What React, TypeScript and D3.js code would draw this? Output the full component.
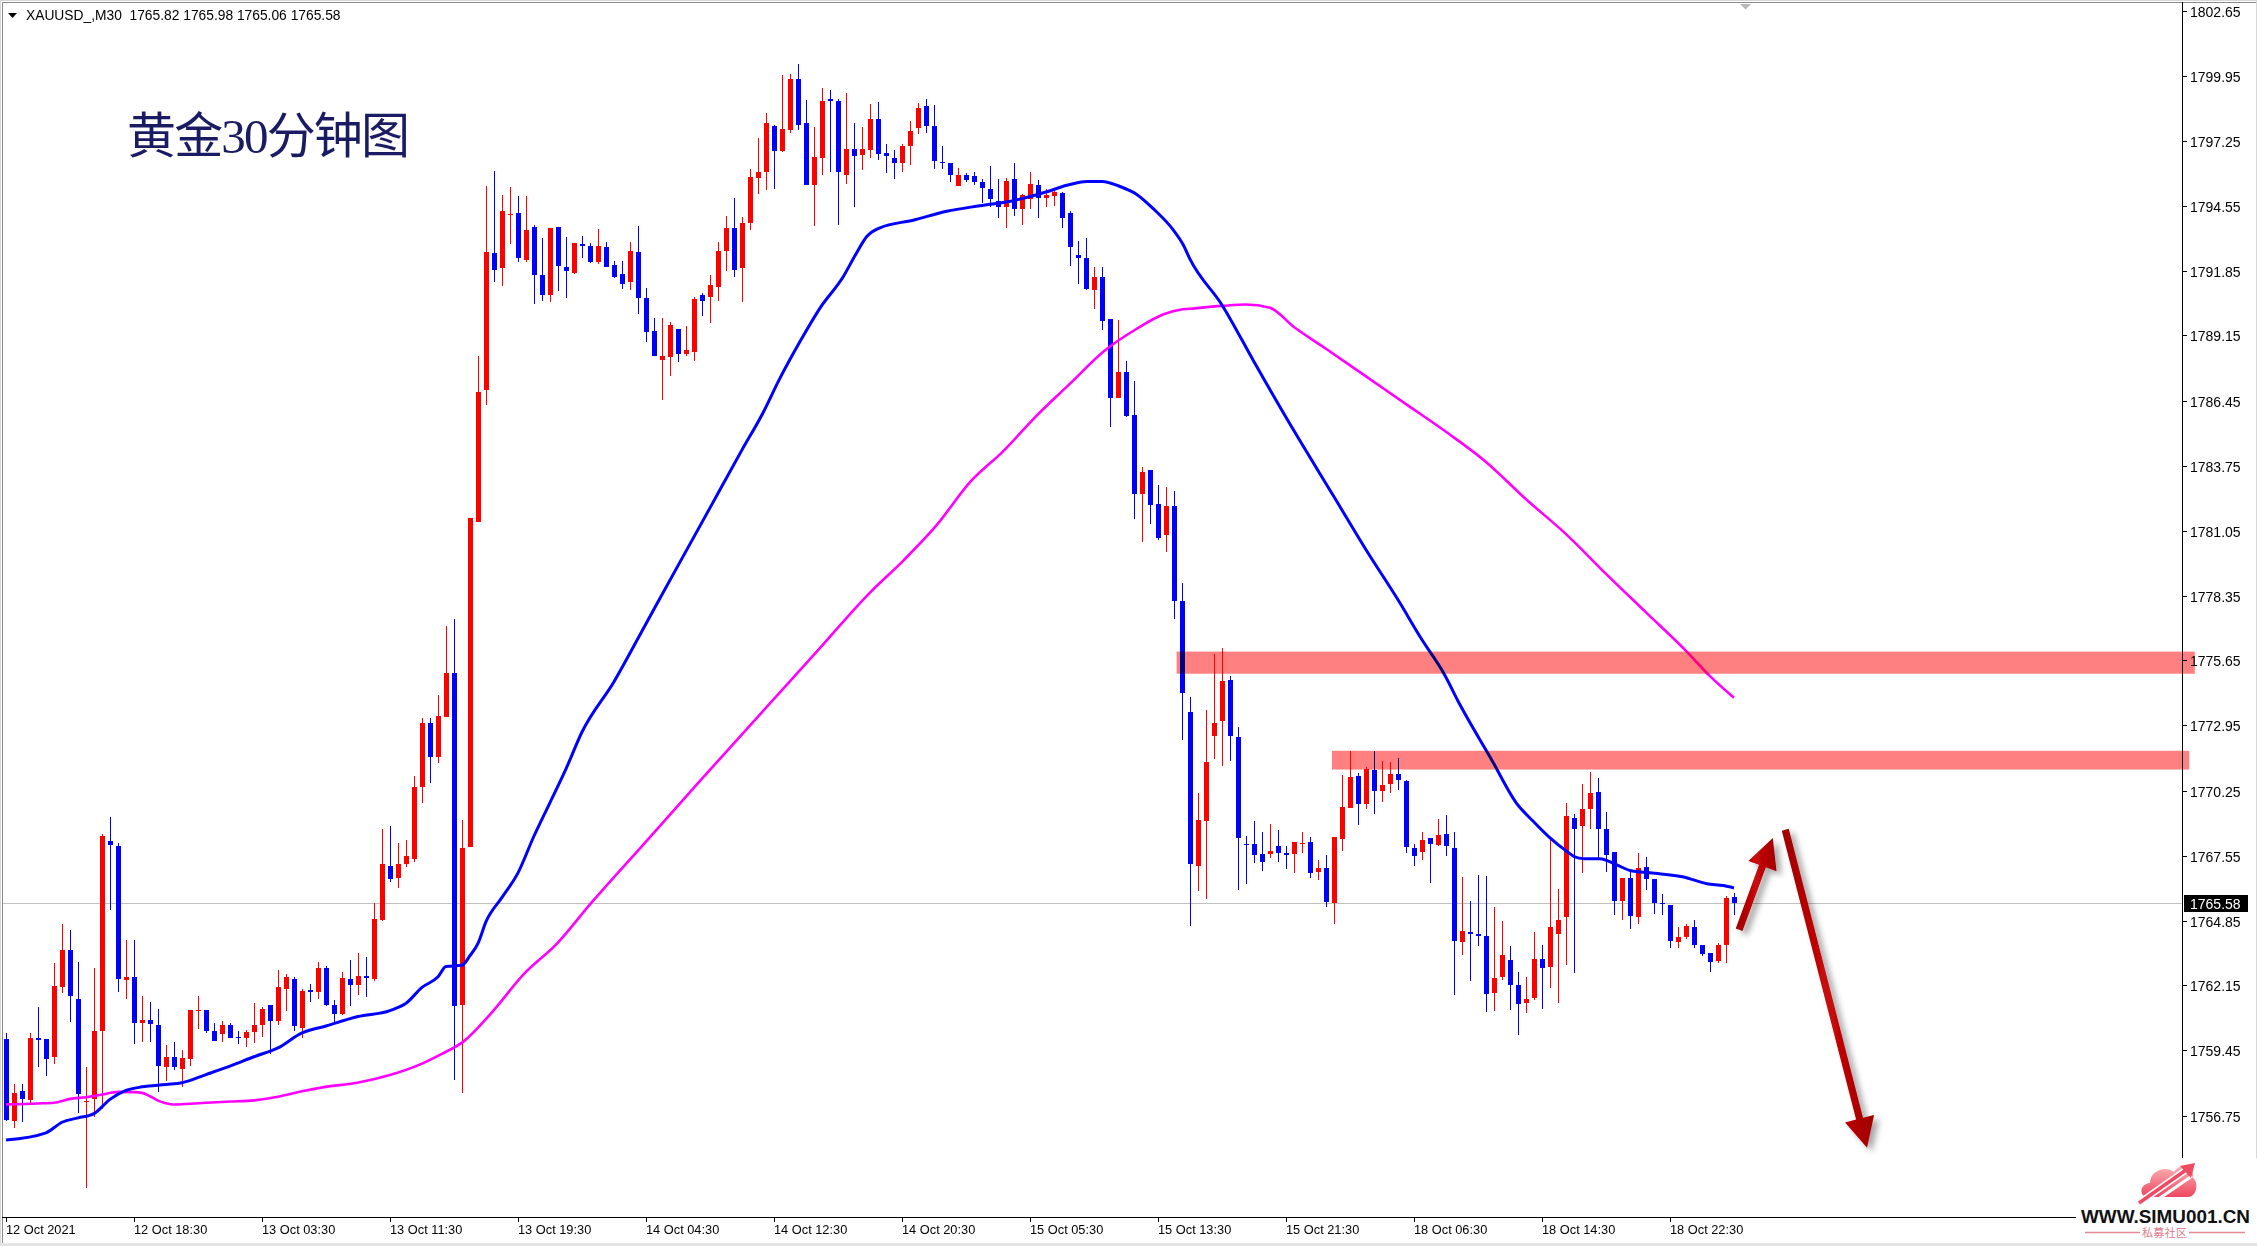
import React from "react";
import * as d3 from "d3";

const W = 2257;
const H = 1246;

// ---- OHLC data (XAUUSD M30), bar 0 .. 216 ----
const opens = [
1759.91,1756.52,1757.75,1757.39,1759.95,1759.91,1759.17,1762.08,1763.64,1761.61,
1757.30,1757.44,1760.25,1768.17,1767.96,1762.37,1762.52,1760.58,1760.70,1760.49,
1758.76,1759.20,1758.67,1759.09,1761.08,1761.12,1760.28,1760.13,1760.49,1760.03,
1759.96,1760.21,1760.50,1761.32,1760.67,1762.00,1762.44,1760.40,1761.95,1761.87,
1762.89,1761.36,1760.98,1762.43,1762.18,1762.53,1762.43,1764.87,1767.13,1766.62,
1767.21,1767.39,1770.39,1773.06,1771.66,1773.31,1775.14,1761.36,1767.92,1781.42,
1786.89,1792.58,1791.97,1794.15,1794.23,1792.30,1793.65,1791.66,1790.85,1793.67,
1792.00,1791.74,1792.96,1792.87,1792.22,1792.83,1792.08,1791.71,1791.39,1792.62,
1790.71,1789.34,1788.13,1788.24,1789.43,1788.40,1788.48,1790.84,1790.73,1791.18,
1792.64,1793.62,1791.97,1793.84,1795.71,1795.94,1797.85,1796.83,1797.70,1799.81,
1797.98,1795.42,1796.54,1798.97,1798.89,1795.83,1796.90,1796.65,1796.87,1798.14,
1796.73,1796.52,1796.33,1797.04,1797.75,1798.69,1797.85,1796.36,1796.31,1795.34,
1795.83,1795.76,1795.52,1795.23,1794.73,1794.47,1795.65,1794.42,1794.83,1795.41,
1794.86,1794.96,1795.07,1794.25,1792.48,1792.37,1791.06,1791.58,1789.84,1786.54,
1787.64,1785.86,1782.58,1783.57,1782.16,1780.86,1782.08,1778.11,1773.52,1767.10,
1768.97,1772.50,1773.12,1774.85,1772.48,1768.04,1768.04,1767.63,1767.60,1767.96,
1767.67,1767.60,1768.02,1768.13,1766.85,1767.05,1765.58,1768.22,1769.51,1770.86,
1769.68,1771.12,1770.22,1770.51,1770.95,1770.66,1767.88,1767.68,1768.29,1767.97,
1768.46,1767.88,1763.95,1764.38,1764.31,1764.22,1761.83,1762.49,1763.19,1762.19,
1761.41,1761.62,1763.27,1762.91,1764.29,1764.98,1769.12,1768.76,1769.50,1770.20,
1768.67,1767.71,1765.65,1766.60,1764.98,1767.09,1766.59,1765.57,1765.51,1763.95,
1764.15,1764.60,1763.85,1763.48,1763.16,1763.82,1765.82
];
const highs = [
1760.18,1758.04,1758.04,1760.16,1761.26,1759.93,1763.10,1764.72,1764.47,1763.13,
1758.76,1762.88,1768.46,1769.15,1768.07,1764.02,1764.06,1761.73,1761.48,1761.19,
1759.66,1759.82,1759.45,1761.15,1761.73,1761.15,1760.61,1760.67,1760.61,1760.28,
1760.32,1761.44,1761.25,1761.36,1762.81,1762.62,1762.52,1762.00,1762.23,1763.14,
1762.94,1761.54,1762.69,1763.19,1763.52,1763.32,1765.56,1768.63,1768.79,1768.05,
1768.20,1770.87,1773.26,1773.26,1774.20,1777.07,1777.38,1769.04,1781.57,1788.31,
1795.38,1795.99,1794.99,1795.32,1794.94,1794.94,1793.75,1793.19,1793.62,1793.67,
1793.24,1792.99,1793.29,1793.01,1793.58,1793.04,1792.25,1792.25,1793.04,1793.70,
1791.13,1789.88,1789.88,1789.72,1789.43,1789.55,1790.75,1790.92,1791.67,1793.04,
1794.12,1794.87,1794.08,1796.07,1797.36,1798.39,1797.90,1799.97,1800.01,1800.43,
1798.93,1797.81,1799.43,1799.35,1798.97,1799.22,1797.98,1797.81,1798.77,1798.85,
1797.09,1796.85,1797.12,1798.06,1798.82,1798.99,1798.72,1797.02,1796.31,1796.12,
1795.88,1795.93,1795.64,1796.20,1795.65,1795.70,1796.31,1795.02,1795.94,1795.60,
1795.23,1795.25,1795.12,1794.31,1793.08,1793.21,1792.00,1791.98,1789.84,1789.80,
1788.09,1787.27,1783.67,1783.57,1782.96,1782.87,1782.68,1778.88,1774.15,1770.16,
1773.61,1775.93,1776.18,1775.02,1772.89,1768.37,1769.00,1768.54,1768.87,1768.62,
1767.96,1768.13,1768.54,1768.33,1767.38,1767.59,1768.33,1770.91,1771.90,1770.99,
1771.24,1771.90,1771.49,1771.45,1771.61,1770.70,1768.04,1768.51,1768.29,1769.08,
1769.25,1768.54,1766.67,1765.68,1766.76,1766.71,1765.43,1764.85,1763.81,1762.69,
1762.52,1764.39,1763.85,1768.21,1766.17,1769.75,1769.29,1770.53,1771.03,1770.78,
1769.37,1767.71,1766.60,1766.85,1767.67,1767.50,1766.59,1765.97,1765.51,1764.60,
1764.72,1764.89,1763.85,1763.48,1763.93,1765.88,1765.98
];
const lows = [
1756.52,1756.24,1756.47,1757.28,1758.77,1758.38,1758.87,1761.84,1760.63,1756.86,
1753.75,1756.68,1757.00,1765.28,1761.87,1761.57,1759.70,1759.82,1759.80,1757.72,
1758.20,1758.63,1757.94,1758.80,1760.35,1760.18,1759.84,1759.80,1759.96,1759.71,
1759.59,1759.78,1760.00,1759.30,1760.53,1761.11,1760.24,1759.97,1761.47,1761.57,
1761.29,1760.60,1760.91,1761.31,1761.77,1761.67,1762.33,1764.82,1766.45,1766.19,
1767.08,1767.26,1769.75,1770.57,1771.40,1773.31,1758.24,1757.70,1767.92,1781.42,
1786.28,1791.36,1791.21,1792.96,1792.20,1792.20,1790.47,1790.60,1790.55,1791.00,
1790.72,1791.69,1792.36,1792.18,1792.12,1791.99,1791.53,1791.10,1791.02,1790.06,
1788.86,1788.28,1786.49,1787.45,1788.07,1788.28,1788.11,1789.98,1789.69,1790.60,
1791.85,1791.60,1790.56,1793.55,1795.04,1795.21,1795.25,1796.79,1797.58,1797.70,
1795.42,1793.68,1795.83,1795.96,1793.76,1795.46,1794.50,1796.04,1796.54,1796.42,
1795.88,1795.67,1795.93,1796.25,1797.54,1797.57,1796.07,1796.07,1795.54,1795.34,
1795.51,1795.42,1794.67,1794.50,1794.05,1793.63,1794.10,1793.76,1794.42,1794.05,
1794.47,1794.54,1793.63,1792.05,1791.31,1791.02,1790.27,1789.37,1785.33,1786.54,
1785.78,1781.53,1780.58,1781.34,1780.65,1780.16,1777.38,1772.33,1764.61,1766.07,
1765.75,1771.55,1771.25,1771.46,1766.11,1766.36,1767.23,1766.90,1767.46,1767.27,
1766.98,1766.81,1767.64,1766.60,1766.52,1765.40,1764.69,1767.72,1769.51,1768.80,
1769.47,1769.26,1769.76,1770.13,1770.26,1767.64,1767.10,1767.38,1766.40,1767.93,
1767.51,1761.75,1763.43,1762.33,1763.78,1761.04,1761.08,1762.37,1761.12,1760.09,
1761.00,1761.54,1761.17,1762.04,1761.41,1762.99,1762.66,1766.81,1768.67,1767.35,
1766.85,1765.07,1764.86,1764.49,1764.69,1766.11,1765.11,1765.07,1763.70,1763.70,
1764.07,1763.70,1763.37,1762.70,1763.07,1763.07,1765.06
];
const closes = [
1756.56,1757.69,1757.44,1759.95,1759.88,1759.09,1762.11,1763.64,1761.71,1757.66,
1757.37,1760.24,1768.38,1767.97,1762.40,1762.52,1760.58,1760.70,1760.54,1758.80,
1759.20,1758.76,1759.12,1761.15,1761.15,1760.25,1759.84,1760.53,1759.96,1759.96,
1760.20,1760.53,1761.19,1760.67,1762.07,1762.52,1760.46,1761.92,1761.90,1762.89,
1761.36,1760.98,1762.48,1762.18,1762.53,1762.48,1764.90,1767.21,1766.57,1767.21,
1767.51,1770.41,1773.06,1771.66,1773.36,1775.14,1761.31,1767.87,1781.57,1786.81,
1792.63,1791.87,1794.33,1794.21,1792.38,1793.54,1791.66,1790.85,1793.62,1792.02,
1791.82,1792.99,1792.87,1792.22,1792.87,1791.99,1791.56,1791.31,1792.66,1790.69,
1789.29,1788.28,1788.30,1789.59,1788.40,1788.55,1790.67,1790.60,1791.25,1792.66,
1793.62,1791.89,1793.83,1795.74,1795.94,1797.98,1796.83,1797.73,1799.81,1797.91,
1795.42,1796.57,1798.89,1798.88,1795.96,1796.90,1796.62,1796.90,1798.14,1796.70,
1796.60,1796.33,1797.02,1797.65,1798.62,1797.86,1796.41,1796.30,1795.80,1795.83,
1795.59,1795.54,1795.26,1794.83,1794.50,1795.57,1794.42,1794.99,1795.44,1794.86,
1794.99,1795.12,1794.05,1792.84,1792.36,1791.08,1791.58,1789.77,1786.54,1787.64,
1785.81,1782.55,1783.46,1782.10,1780.74,1782.08,1778.11,1774.32,1767.19,1769.04,
1771.45,1773.07,1774.81,1772.50,1768.27,1767.97,1767.56,1767.27,1767.75,1767.64,
1767.56,1768.13,1768.09,1766.81,1767.05,1765.61,1768.33,1769.58,1770.82,1769.68,
1771.16,1770.22,1770.49,1770.95,1770.67,1767.89,1767.52,1768.21,1768.02,1768.42,
1767.93,1763.99,1764.42,1764.29,1764.20,1761.79,1762.48,1763.43,1762.16,1761.37,
1761.57,1763.27,1762.87,1764.60,1764.89,1769.21,1768.64,1769.50,1770.16,1768.64,
1767.59,1765.65,1766.60,1765.03,1767.05,1766.56,1765.57,1765.52,1763.99,1764.18,
1764.64,1763.82,1763.45,1763.12,1763.85,1765.80,1765.58
];

// ---- moving averages (sampled along the bars) ----
const blueMaBars = [0,5,7,9,11,13,15,17,20,22,25,28,31,34,37,40,44,48,50,52,54,55,57,58,59,60,62,64,66,68,70,72,76,80,84,88,92,94.5,96.75,99.25,101.75,104.67,106.3,107.6,109.25,113.4,117.6,121.75,125.9,130.1,132.6,135.1,137,139.25,141.3,143.4,145.9,147.2,148,152,156,161,166,170,174,177,179.7,181.75,185.7,188.8,190.9,193,195.1,196.1,197.2,199.25,201.3,203,205.5,209.7,212.6,214.7,216];
const blueMaVals = [1755.73,1756.03,1756.47,1756.65,1756.83,1757.42,1757.79,1757.94,1758.04,1758.11,1758.45,1758.80,1759.19,1759.56,1760.18,1760.47,1760.86,1761.11,1761.41,1762.07,1762.51,1762.94,1762.99,1763.39,1763.90,1764.80,1765.81,1766.83,1768.36,1769.75,1771.15,1772.68,1774.77,1777.18,1779.59,1781.99,1784.40,1785.86,1787.38,1788.90,1790.29,1791.60,1792.57,1793.26,1793.62,1793.94,1794.31,1794.54,1794.75,1795.12,1795.39,1795.55,1795.55,1795.34,1795.02,1794.42,1793.54,1792.89,1792.32,1790.42,1788.06,1785.19,1782.45,1780.25,1778.17,1776.51,1775.13,1773.81,1771.53,1769.73,1768.97,1768.28,1767.72,1767.49,1767.42,1767.42,1767.17,1766.93,1766.83,1766.66,1766.38,1766.30,1766.20];

const magMaBars = [0,4,6,8,10,12,14,16,17,18,19,20,21,23,25,28,31,34,37,39.75,43.9,48.1,51.4,54.3,57.25,60.6,64.75,68.9,73.1,80,87,94,101,108,112.2,116.3,120.5,124.7,128.8,133,137.2,141.3,144.7,146.75,148,152,155,158,161,165,170,175,180,185,190,195,200,205,210,213,216];
const magMaVals = [1757.21,1757.25,1757.28,1757.44,1757.51,1757.62,1757.73,1757.72,1757.69,1757.55,1757.37,1757.26,1757.21,1757.24,1757.28,1757.33,1757.38,1757.53,1757.76,1757.93,1758.11,1758.44,1758.82,1759.28,1759.84,1760.98,1762.63,1763.90,1765.56,1768.13,1770.74,1773.32,1775.89,1778.47,1779.81,1781.26,1783.06,1784.36,1785.81,1787.15,1788.49,1789.42,1790.03,1790.22,1790.26,1790.38,1790.44,1790.30,1789.50,1788.60,1787.45,1786.30,1785.15,1783.90,1782.35,1780.90,1779.25,1777.65,1776.05,1775.00,1774.10];

// ---- axes ----
const timeLabels = ["12 Oct 2021","12 Oct 18:30","13 Oct 03:30","13 Oct 11:30","13 Oct 19:30","14 Oct 04:30","14 Oct 12:30","14 Oct 20:30","15 Oct 05:30","15 Oct 13:30","15 Oct 21:30","18 Oct 06:30","18 Oct 14:30","18 Oct 22:30"];
const timeLabelBars = [0,16,32,48,64,80,96,112,128,144,160,176,192,208];
const priceTicks = ["1802.65","1799.95","1797.25","1794.55","1791.85","1789.15","1786.45","1783.75","1781.05","1778.35","1775.65","1772.95","1770.25","1767.55","1764.85","1762.15","1759.45","1756.75"];

// ---- drawn objects: zones [startBar, endBar, lowPrice, highPrice] ----
const zoneStart = [146.33, 165.75];
const zoneEnd = [273.6, 272.9];
const zoneLow = [1775.10, 1771.12];
const zoneHigh = [1776.02, 1771.90];

// arrows [tailBar, tailPrice, tipBar, tipPrice]
const arrowTailBar = [216.64, 222.41];
const arrowTailPrice = [1764.47, 1768.62];
const arrowTipBar = [220.85, 232.63];
const arrowTipPrice = [1768.28, 1755.41];

const symbol = "XAUUSD_,M30";
const title = "黄金30分钟图";

const AXIS_X = 2182;
const AXIS_Y = 1217;

const x = d3.scaleLinear().domain([0, 216]).range([6, 1734]);
const y = d3.scaleLinear().domain([1756.75, 1802.65]).range([1115.5, 10.5]);

function arrowPolygon(x1: number, y1: number, x2: number, y2: number) {
  const dx = x2 - x1, dy = y2 - y1;
  const len = Math.hypot(dx, dy);
  const ux = dx / len, uy = dy / len;
  const px = -uy, py = ux;
  const headLen = 30, headHalf = 15, sw = 3.6;
  const bx = x2 - ux * headLen, by = y2 - uy * headLen;
  const pts = [
    [x1 + px * sw, y1 + py * sw],
    [bx + px * sw, by + py * sw],
    [bx + px * headHalf, by + py * headHalf],
    [x2, y2],
    [bx - px * headHalf, by - py * headHalf],
    [bx - px * sw, by - py * sw],
    [x1 - px * sw, y1 - py * sw],
  ];
  return pts.map((p) => p.join(",")).join(" ");
}

export default function App() {
  const last = opens.length - 1;
  const header = `${symbol}  ${opens[last].toFixed(2)} ${highs[last].toFixed(2)} ${lows[last].toFixed(2)} ${closes[last].toFixed(2)}`;
  const lastPrice = closes[last];

  const lineGen = d3
    .line<[number, number]>()
    .x((d) => x(d[0]))
    .y((d) => y(d[1]))
    .curve(d3.curveMonotoneX);
  const blueData: [number, number][] = blueMaBars.map((b, i) => [b, blueMaVals[i]]);
  const magData: [number, number][] = magMaBars.map((b, i) => [b, magMaVals[i]]);

  const priceY = Math.round(y(lastPrice)) + 0.5;

  return (
    <div style={{ width: W, height: H, overflow: "hidden" }}>
      <style>{`html,body{margin:0;padding:0;background:#fff;}`}</style>
      <svg width={W} height={H} viewBox={`0 0 ${W} ${H}`} style={{ display: "block", background: "#fff" }}>
        <defs>
          <filter id="shadow" x="-30%" y="-30%" width="160%" height="160%">
            <feDropShadow dx="5" dy="4" stdDeviation="3" floodColor="#000" floodOpacity="0.35" />
          </filter>
          <linearGradient id="arrowGrad" x1="0" y1="0" x2="1" y2="0">
            <stop offset="0" stopColor="#9e0000" />
            <stop offset="0.5" stopColor="#c80808" />
            <stop offset="1" stopColor="#a00000" />
          </linearGradient>
          <linearGradient id="cloudGrad" x1="0" y1="0" x2="0" y2="1">
            <stop offset="0" stopColor="#f9b2b2" />
            <stop offset="1" stopColor="#ee4660" />
          </linearGradient>
        </defs>

        {/* window frame */}
        <rect x={0.5} y={0.5} width={W - 1} height={H - 1} fill="none" stroke="#d8d8d8" />
        <path d={`M2.5,${H - 3} V2.5 H${W - 1}`} fill="none" stroke="#8a8a8a" />
        <rect x={0} y={H - 3} width={W} height={3} fill="#e4e4e4" />

        {/* current price line */}
        <line x1={3} x2={AXIS_X} y1={priceY} y2={priceY} stroke="#c0c0c0" strokeWidth={1} />

        {/* candles */}
        {opens.map((o, i) => {
          const c = closes[i];
          const h = highs[i];
          const l = lows[i];
          const cx = Math.round(x(i));
          const col = c > o ? "#FF0000" : "#0000FF";
          const yt = Math.round(y(Math.max(o, c)));
          const yb = Math.round(y(Math.min(o, c)));
          const yh = Math.round(y(h));
          const yl = Math.round(y(l));
          return (
            <g key={i}>
              <rect x={cx} y={yh} width={1} height={Math.max(1, yl - yh)} fill={col} />
              <rect x={cx - 2} y={yt} width={5} height={Math.max(1, yb - yt)} fill={col} />
            </g>
          );
        })}

        {/* moving averages */}
        <path d={lineGen(magData) || ""} fill="none" stroke="#FF00FF" strokeWidth={2.6} />
        <path d={lineGen(blueData) || ""} fill="none" stroke="#0000FF" strokeWidth={3} />

        {/* title */}
        <text
          x={127}
          y={153}
          fontFamily="'Liberation Serif', 'Noto Sans CJK SC', serif"
          fontSize={49}
          fill="#1b1b63"
          textLength={283}
          lengthAdjust="spacing"
        >
          {title}
        </text>

        {/* header */}
        <polygon points="8,13 17,13 12.5,18" fill="#000" />
        <text x={26} y={20} fontFamily="'Liberation Sans', Arial, sans-serif" fontSize={13.8} fill="#000" style={{ whiteSpace: "pre" }}>
          {header}
        </text>
        <polygon points="1740,4 1751,4 1745.5,9.5" fill="#b8b8b8" />

        {/* right price axis */}
        <line x1={AXIS_X + 0.5} x2={AXIS_X + 0.5} y1={2} y2={AXIS_Y + 1} stroke="#000" />
        {priceTicks.map((t) => {
          const ty = Math.round(y(+t)) + 0.5;
          return (
            <g key={t}>
              <line x1={AXIS_X} x2={AXIS_X + 5} y1={ty} y2={ty} stroke="#000" />
              <text x={2190} y={ty + 5} fontFamily="'Liberation Sans', Arial, sans-serif" fontSize={14} fill="#000">
                {t}
              </text>
            </g>
          );
        })}
        <rect x={AXIS_X + 2} y={priceY - 8.5} width={64} height={17} fill="#000" />
        <text x={2190} y={priceY + 5} fontFamily="'Liberation Sans', Arial, sans-serif" fontSize={14} fill="#fff">
          {lastPrice.toFixed(2)}
        </text>

        {/* bottom time axis */}
        <line x1={2} x2={AXIS_X + 1} y1={AXIS_Y + 0.5} y2={AXIS_Y + 0.5} stroke="#000" />
        {timeLabels.map((t, k) => {
          const tx = Math.round(x(timeLabelBars[k])) + 0.5;
          return (
            <g key={t}>
              <line x1={tx} x2={tx} y1={AXIS_Y} y2={AXIS_Y + 5} stroke="#000" />
              <text x={tx - 0.5} y={1234} fontFamily="'Liberation Sans', Arial, sans-serif" fontSize={12.8} fill="#000">
                {t}
              </text>
            </g>
          );
        })}

        {/* zones (multiply blend like the terminal) */}
        {zoneStart.map((s, k) => (
          <rect
            key={k}
            x={x(s)}
            y={y(zoneHigh[k])}
            width={x(zoneEnd[k]) - x(s)}
            height={y(zoneLow[k]) - y(zoneHigh[k])}
            fill="#FF8080"
            style={{ mixBlendMode: "multiply" }}
          />
        ))}

        {/* arrows */}
        {arrowTailBar.map((tb, k) => (
          <polygon
            key={k}
            points={arrowPolygon(x(tb), y(arrowTailPrice[k]), x(arrowTipBar[k]), y(arrowTipPrice[k]))}
            fill="url(#arrowGrad)"
            filter="url(#shadow)"
          />
        ))}

        {/* watermark logo */}
        <rect x={2076} y={1158} width={181} height={H - 3 - 1158} fill="#fff" />
        <path
          d="M2148,1197 C2139,1197 2139,1184 2150,1183 C2150,1171 2165,1165 2174,1172 C2180,1162 2195,1166 2193,1178 C2199,1182 2197,1197 2188,1197 Z"
          fill="url(#cloudGrad)"
        />
        <line x1={2139} y1={1203} x2={2186} y2={1170} stroke="#fff" strokeWidth={7} />
        <line x1={2139} y1={1203} x2={2186} y2={1170} stroke="#f04a62" strokeWidth={3.5} />
        <line x1={2160} y1={1198} x2={2192} y2={1176} stroke="#fff" strokeWidth={3} />
        <polygon points="2195,1163 2180,1166 2191,1178" fill="#f04a62" />
        <text
          x={2081}
          y={1223}
          fontFamily="'Liberation Sans', Arial, sans-serif"
          fontWeight="bold"
          fontSize={18}
          fill="#111"
          textLength={169}
          lengthAdjust="spacingAndGlyphs"
        >
          WWW.SIMU001.CN
        </text>
        <line x1={2085} x2={2140} y1={1232.5} y2={1232.5} stroke="#e48a97" strokeWidth={1.5} />
        <line x1={2189} x2={2245} y1={1232.5} y2={1232.5} stroke="#e48a97" strokeWidth={1.5} />
        <text x={2142} y={1237} fontFamily="'Noto Sans CJK SC', sans-serif" fontSize={11} fill="#e07b8a" textLength={45}>
          私募社区
        </text>
      </svg>
    </div>
  );
}
